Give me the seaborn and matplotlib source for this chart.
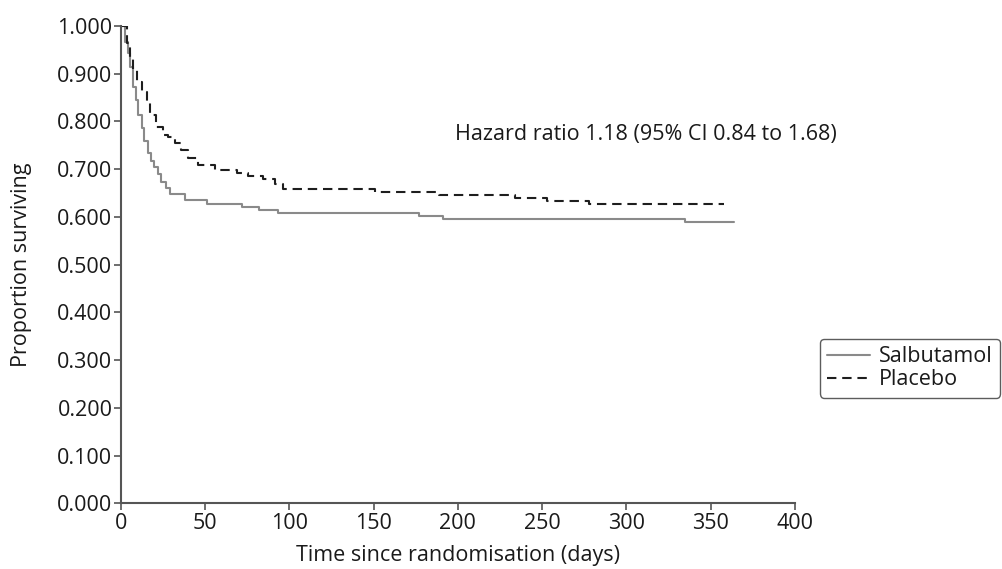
import matplotlib
matplotlib.use("Agg")
import matplotlib.pyplot as plt
import seaborn as sns
import pandas as pd
from matplotlib.ticker import FormatStrFormatter

# Data
salb_days = [0, 2.5, 4.5, 5.5, 7.5, 9, 10.5, 12.4, 14, 16, 18, 20, 22, 24, 27, 29,
             38, 51, 72, 82, 93, 177, 191, 335, 364]
salb_surv = [1.0, 0.967, 0.943, 0.915, 0.873, 0.845, 0.814, 0.786, 0.76, 0.734,
             0.718, 0.705, 0.69, 0.674, 0.66, 0.648, 0.635, 0.628, 0.621, 0.614,
             0.608, 0.602, 0.595, 0.590, 0.590]
plac_days = [0, 3.5, 5.5, 7.5, 9.5, 12.4, 15.4, 17.4, 21, 25, 28, 32, 36, 40, 46,
             56, 69, 75.5, 84.5, 91.5, 96.5, 151, 189, 234, 253, 278, 358]
plac_surv = [1.0, 0.964, 0.936, 0.908, 0.883, 0.862, 0.841, 0.814, 0.789, 0.772,
             0.768, 0.754, 0.740, 0.723, 0.709, 0.698, 0.693, 0.686, 0.679, 0.670,
             0.659, 0.653, 0.646, 0.640, 0.633, 0.627, 0.627]
x_ticks = [0, 50, 100, 150, 200, 250, 300, 350, 400]
y_ticks = [0.0, 0.1, 0.2, 0.3, 0.4, 0.5, 0.6, 0.7, 0.8, 0.9, 1.0]
annotation = "Hazard ratio 1.18 (95% CI 0.84 to 1.68)"

sns.set_style("white")
plt.rcParams['font.family'] = ['Open Sans', 'DejaVu Sans']
FS = 15.5

fig = plt.figure(figsize=(10.02, 5.69), dpi=100)
ax = fig.add_axes([0.1205, 0.1155, 0.6729, 0.8388])

df_s = pd.DataFrame({"days": salb_days, "surv": salb_surv})
df_p = pd.DataFrame({"days": plac_days, "surv": plac_surv})

sns.lineplot(data=df_s, x="days", y="surv", ax=ax, color="#8a8a8a", linewidth=1.5,
             drawstyle="steps-post", estimator=None, sort=False, label="Salbutamol")
sns.lineplot(data=df_p, x="days", y="surv", ax=ax, color="#1e1e1e", linewidth=1.5,
             drawstyle="steps-post", estimator=None, sort=False, label="Placebo",
             dashes=False)
ax.lines[1].set_dashes((4.5, 2.8))

ax.set_xlim(0, 400)
ax.set_ylim(0, 1.0)
ax.set_xticks(x_ticks)
ax.set_yticks(y_ticks)
ax.yaxis.set_major_formatter(FormatStrFormatter("%.3f"))
ax.tick_params(axis="both", direction="out", length=5, width=1.2, color="#555555",
               labelsize=FS, labelcolor="#1a1a1a", pad=1, left=True, bottom=True)
ax.tick_params(axis="x", pad=2)
for side in ["top", "right"]:
    ax.spines[side].set_visible(False)
for side in ["left", "bottom"]:
    ax.spines[side].set_color("#555555")
    ax.spines[side].set_linewidth(1.5)

ax.set_xlabel("Time since randomisation (days)", fontsize=FS, color="#1a1a1a", labelpad=8)
ax.set_ylabel("Proportion surviving", fontsize=FS, color="#1a1a1a", labelpad=18)

ax.text(198.5, 0.772, annotation, fontsize=FS, color="#1a1a1a", ha="left", va="center")

leg = ax.legend(loc="center left", bbox_to_anchor=(0.818, 0.353),
                bbox_transform=fig.transFigure, fontsize=FS, frameon=True,
                handlelength=2.0, handletextpad=0.4, borderpad=0.35, labelspacing=0.1,
                borderaxespad=0, fancybox=True)
leg.get_frame().set_edgecolor("#333333")
leg.get_frame().set_linewidth(1.0)
for t in leg.get_texts():
    t.set_color("#1a1a1a")

fig.savefig("out.png", dpi=100)
